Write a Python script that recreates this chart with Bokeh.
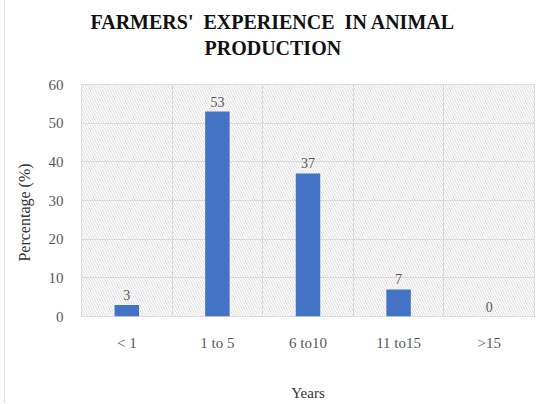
from bokeh.plotting import figure
from bokeh.models import (Range1d, FixedTicker, BoxAnnotation, LabelSet,
                          ColumnDataSource, Title)
from bokeh.embed import file_html
from bokeh.resources import INLINE

# Survey data: years of experience in animal production
categories = ["< 1", "1 to 5", "6 to10", "11 to15", ">15"]
percentages = [3, 53, 37, 7, 0]
y_ticks = [0, 10, 20, 30, 40, 50, 60]

SERIF = "Liberation Serif"
GRID = "#d9d9d9"
TEXT = "#595959"
NBSP = "\u00a0"

centers = [i + 0.5 for i in range(len(categories))]
src = ColumnDataSource(dict(x=centers, top=percentages,
                            label=[str(v) for v in percentages]))

p = figure(width=534, height=419, output_backend="svg", toolbar_location=None,
           x_range=Range1d(0, len(categories)), y_range=Range1d(0, 60),
           min_border_left=76, min_border_right=5, min_border_top=80,
           min_border_bottom=84, title=None)
# the title block reserves extra room above itself; pull the canvas up to trim it
p.styles = {"margin-left": "4px", "margin-top": "-16px",
            "border-left": "1px solid #dedede"}

# Two-line title, lines centred on each other
title_text = ("FARMERS'" + NBSP * 2 + "EXPERIENCE" + NBSP * 2 + "IN ANIMAL"
              + "\nPRODUCTION")
p.add_layout(Title(text=title_text, align="left", text_align="center",
                   text_line_height=1.2,
                   text_font=SERIF, text_font_size="20px", text_font_style="bold",
                   text_color="#111111", standoff=50, offset=9), "above")

# Hatched plot background
p.background_fill_color = "white"
p.add_layout(BoxAnnotation(level="image", fill_color="white", line_color=None,
                           hatch_pattern="\\", hatch_color="#dcdcdc",
                           hatch_scale=5, hatch_weight=1))
p.outline_line_color = GRID

p.vbar(x="x", top="top", width=0.27, source=src, fill_color="#4472C4",
       line_color=None)

p.add_layout(LabelSet(x="x", y="top", text="label", source=src, y_offset=5,
                      text_align="center", text_baseline="bottom",
                      text_font=SERIF, text_font_size="14px", text_color=TEXT))

# Grid: horizontal at every 10, vertical at category boundaries
p.ygrid.ticker = FixedTicker(ticks=y_ticks)
p.xgrid.ticker = FixedTicker(ticks=list(range(len(categories) + 1)))
for g in (p.xgrid, p.ygrid):
    g.grid_line_color = GRID
    g.grid_line_width = 1

p.xaxis.ticker = FixedTicker(ticks=centers)
p.xaxis.major_label_overrides = {c: lab for c, lab in zip(centers, categories)}
p.yaxis.ticker = FixedTicker(ticks=y_ticks)

for ax in (p.xaxis[0], p.yaxis[0]):
    ax.axis_line_color = None
    ax.major_tick_line_color = None
    ax.minor_tick_line_color = None
    ax.major_label_text_font = SERIF
    ax.major_label_text_font_size = "15px"
    ax.major_label_text_color = TEXT
    ax.axis_label_text_font = SERIF
    ax.axis_label_text_font_style = "normal"
    ax.axis_label_text_color = "#333333"

p.xaxis.axis_label = "Years"
p.xaxis.axis_label_text_font_size = "15px"
p.xaxis.major_label_standoff = 12
p.xaxis.axis_label_standoff = 31

# trailing spaces nudge the rotated label a little lower along the axis
p.yaxis.axis_label = "Percentage (%)" + NBSP * 6
p.yaxis.axis_label_text_font_size = "16px"
p.yaxis.major_label_standoff = 12
p.yaxis.axis_label_standoff = 13

open("out.html", "w").write(file_html(p, INLINE))
